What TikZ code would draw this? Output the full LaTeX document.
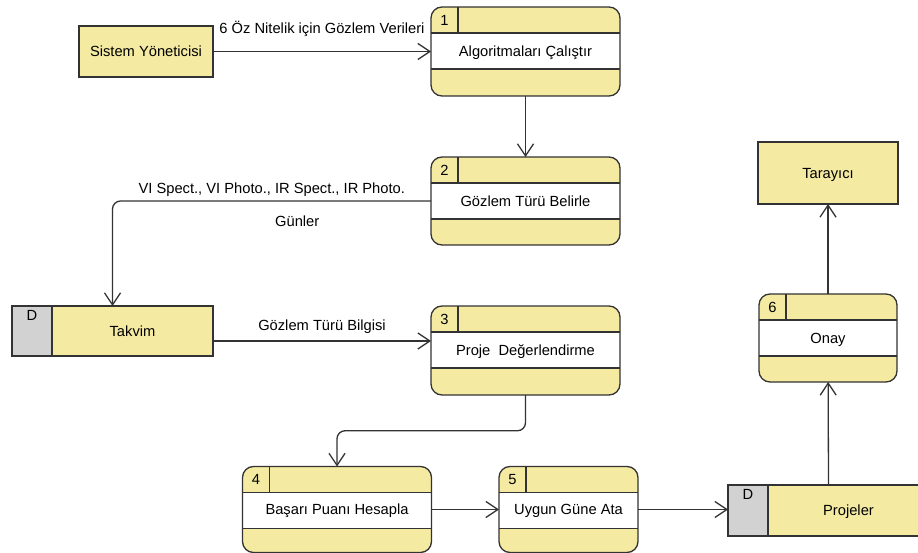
\documentclass[tikz,border=0pt]{standalone}
\usepackage{fontspec}
\setmainfont{Liberation Sans}
\usetikzlibrary{arrows.meta,positioning,calc}
\definecolor{CYellow}{HTML}{F4EAA2}
\definecolor{CGray}{HTML}{D2D2D2}
\definecolor{CLine}{HTML}{333333}

\begin{document}
\begin{tikzpicture}[x=1pt, y=-1pt,
  font=\fontsize{14.7}{17}\selectfont,
  extent/.style n args={2}{draw=CLine, fill=CYellow, line width=1.3pt, outer sep=0pt,
    minimum width=#1, minimum height=#2, text height=12pt, text depth=1.5pt},
  storeid/.style={draw=CLine, fill=CGray, line width=1.3pt, outer sep=0pt,
    minimum width=40pt, minimum height=#1},
  proc/.style n args={2}{draw=CLine, fill=CYellow, line width=1.3pt, outer sep=0pt,
    rounded corners=11pt, minimum width=#1, minimum height=#2,
    text height=12pt, text depth=1.5pt,
    path picture={
      \fill[white, sharp corners] ([yshift=-26pt]path picture bounding box.north west)
        rectangle ([yshift=-62pt]path picture bounding box.north east);
      \draw[CLine, line width=1.3pt, sharp corners]
        ([yshift=-26pt]path picture bounding box.north west) -- ([yshift=-26pt]path picture bounding box.north east)
        ([yshift=-62pt]path picture bounding box.north west) -- ([yshift=-62pt]path picture bounding box.north east)
        ([xshift=27pt]path picture bounding box.north west) -- ([xshift=27pt,yshift=-26pt]path picture bounding box.north west);
    }},
  procnum/.style={inner sep=0pt},
  flow/.style={draw=CLine, line width=1.3pt,
    -{Straight Barb[length=12pt, width=16pt, line width=1.3pt]}}]

  \useasboundingbox (0,0) rectangle (918,553);

  % external entities
  \node[extent={134pt}{51pt}] (sys) at (146,51.5) {Sistem Yöneticisi};
  \node[extent={140pt}{62pt}] (tar) at (828,173) {Tarayıcı};

  % processes
  \node[proc={189pt}{89pt}] (p1) at (525.5,51.5) {Algoritmaları Çalıştır};
  \node[proc={189pt}{88pt}] (p2) at (525.5,201) {Gözlem Türü Belirle};
  \node[proc={189pt}{89pt}] (p3) at (525.5,350.5) {Proje\ \ Değerlendirme};
  \node[proc={189pt}{86pt}] (p4) at (337,509.5) {Başarı Puanı Hesapla};
  \node[proc={139pt}{86pt}] (p5) at (568.5,509.5) {Uygun Güne Ata};
  \node[proc={138pt}{88pt}] (p6) at (828,338) {Onay};
  \foreach \p/\n in {p1/1, p2/2, p3/3, p4/4, p5/5, p6/6} {
     \node[procnum] (\p-n) at ([xshift=13.5pt, yshift=-13pt]\p.north west) {\n};
  }

  % data stores
  \node[extent={161pt}{50pt}] (tak) at (132.5,331) {Takvim};
  \node[storeid=50pt, left=0pt of tak] (takd) {};
  \node[extent={161pt}{51pt}] (proj) at (848.5,510.5) {Projeler};
  \node[storeid=51pt, left=0pt of proj] (projd) {};
  \foreach \d in {takd, projd} {
     \node[inner sep=0pt, anchor=north] (\d-l) at ([yshift=-4.5pt]\d.north) {D};
  }

  \coordinate (takmid) at ($(takd.north west)!.5!(tak.north east)$);
  \coordinate (takout) at ([yshift=-10pt]tak.east);
  \coordinate (projmid) at ($(projd.north west)!.5!(proj.north east)$);
  \coordinate (m34) at ($(p3.south)!.5!(p4.north)$);

  % flows
  \draw[flow] (sys) -- node[above=11pt] (f1) {6 Öz Nitelik için Gözlem Verileri} (p1);
  \draw[flow] (p1) -- (p2);
  \draw[flow, rounded corners=8pt] (p2.west) -| node[pos=0.25, above=0pt] (f2) {VI Spect., VI Photo., IR Spect., IR Photo.}
     node[pos=0.21, below=11pt] (f3) {Günler} (takmid);
  \draw[flow] (takout) -- node[above=3pt] (f4) {Gözlem Türü Bilgisi} (takout -| p3.west);
  \draw[flow, rounded corners=8pt] (p3.south) |- (m34) -| (p4.north);
  \draw[flow] (p4) -- (p5);
  \draw[flow] (p5.east) -- (p5.east -| projd.west);
  \draw[flow] (projmid) -- (p6);
  \draw[flow] (p6) -- (tar);
\end{tikzpicture}
\end{document}
